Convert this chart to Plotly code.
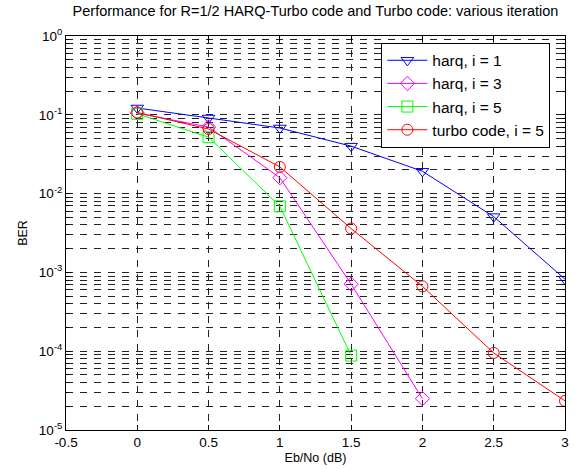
import plotly.graph_objects as go

ebno = [0, 0.5, 1, 1.5, 2, 2.5, 3]
harq1 = [0.122, 0.091, 0.068, 0.040, 0.0192, 0.0051, 0.00082]
harq3 = [0.105, 0.070, 0.0159, 0.00071, 2.5e-5]
harq5 = [0.103, 0.052, 0.0069, 8.8e-5]
turbo5 = [0.107, 0.066, 0.0218, 0.0036, 0.000665, 9.5e-5, 2.34e-5]

ytickvals = [1e-5, 1e-4, 1e-3, 1e-2, 1e-1, 1]
yticktext = ["10<sup>-5</sup>", "10<sup>-4</sup>", "10<sup>-3</sup>", "10<sup>-2</sup>", "10<sup>-1</sup>", "10<sup>0</sup>"]
xtickvals = [-0.5, 0, 0.5, 1, 1.5, 2, 2.5, 3]
xticktext = ["-0.5", "0", "0.5", "1", "1.5", "2", "2.5", "3"]

series = [
    ("harq, i = 1", harq1, "#0000ff", "triangle-down-open"),
    ("harq, i = 3", harq3, "#ff00ff", "diamond-open"),
    ("harq, i = 5", harq5, "#00ff00", "square-open"),
    ("turbo code, i = 5", turbo5, "#ff0000", "circle-open"),
]

fig = go.Figure()
for name, vals, color, sym in series:
    fig.add_trace(go.Scatter(
        x=ebno[:len(vals)], y=vals, name=name, mode="lines+markers",
        line=dict(color=color, width=1),
        marker=dict(symbol=sym, size=11, color=color, line=dict(color=color, width=1)),
    ))

font = "Liberation Sans, Arial, sans-serif"
fig.update_layout(
    width=575, height=469,
    margin=dict(l=66, r=6, t=36, b=37),
    paper_bgcolor="white", plot_bgcolor="white",
    font=dict(family=font, size=13.5, color="black"),
    title=dict(text="Performance for R=1/2 HARQ-Turbo code and Turbo code: various iteration",
               xref="paper", x=0.5, xanchor="center", y=0.988, yanchor="top",
               font=dict(size=14.5)),
    showlegend=True,
    legend=dict(x=0.632, y=0.983, xanchor="left", yanchor="top",
                bgcolor="white", bordercolor="black", borderwidth=1,
                font=dict(size=15.5), itemwidth=40, tracegroupgap=0),
)
grid = dict(showgrid=True, gridcolor="#222", gridwidth=1, griddash="7px,7px")
fig.update_xaxes(
    range=[-0.5, 3], tickvals=xtickvals, ticktext=xticktext,
    showline=True, linecolor="black", linewidth=1, mirror="ticks",
    ticks="inside", ticklen=5, tickcolor="black", zeroline=False,
    title=dict(text="Eb/No (dB)", standoff=4, font=dict(size=12.5)), **grid,
)
fig.update_yaxes(
    type="log", range=[-5, 0], tickvals=ytickvals, ticktext=yticktext,
    showline=True, linecolor="black", linewidth=1, mirror="ticks",
    ticks="inside", ticklen=5, tickcolor="black", zeroline=False,
    title=dict(text="BER", standoff=8, font=dict(size=12.5)), **grid,
    minor=dict(ticks="inside", ticklen=3, tickcolor="black", showgrid=True,
               gridcolor="#222", gridwidth=1, griddash="7px,7px",
               dtick="D1"),
)
fig.write_html("out.html")
